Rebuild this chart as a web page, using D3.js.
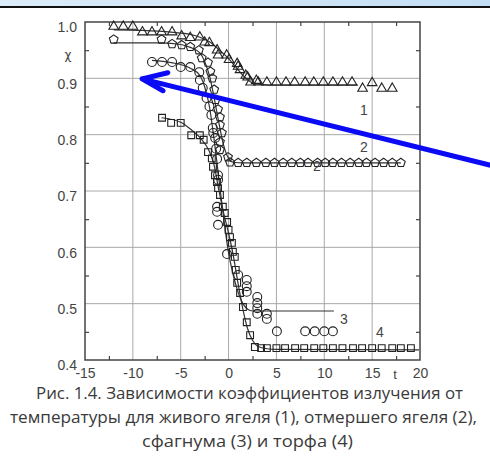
<!DOCTYPE html>
<html>
<head>
<meta charset="utf-8">
<script src="https://cdn.jsdelivr.net/npm/d3@7"></script>
<style>
  body { margin: 0; background: #fff; }
  svg { display: block; }
</style>
</head>
<body>
<script>
// axis ticks
var xTicks = [-15, -10, -5, 0, 5, 10, 15, 20];
var yTicks = [0.4, 0.5, 0.6, 0.7, 0.8, 0.9, 1.0];
var xMinor = [-12.5, -7.5, -2.5, 2.5, 7.5, 12.5, 17.5];
var yMinor = [0.45, 0.55, 0.65, 0.75, 0.85, 0.95];

// (1) living lichen - triangles  [t, chi]
var lichenLive = [[-12,0.992],[-11,0.992],[-10,0.992],[-9,0.982],[-8,0.982],[-7,0.982],[-5.9,0.982],
  [-4.9,0.975],[-4,0.972],[-3,0.973],[-2.5,0.964],[-2,0.963],[-1.2,0.95],[-1.1,0.941],[-0.2,0.941],
  [0.05,0.933],[0.9,0.926],[1,0.921],[1.2,0.915],[1.8,0.905],[2,0.902],[2.3,0.893],[2.9,0.896],
  [3.1,0.893],[4,0.893],[5,0.893],[6,0.893],[6.9,0.893],[8,0.893],[8.9,0.893],[9.9,0.893],[10.9,0.893],
  [11.9,0.893],[12.9,0.893],[14,0.882],[15,0.892],[16,0.882],[17.1,0.882]];
var lichenLiveFit = [[-12,0.986],[-9,0.985],[-6,0.982],[-4,0.978],[-3,0.973],[-2,0.965],[-1,0.951],
  [0,0.935],[1,0.915],[1.8,0.9],[2.5,0.892],[3.5,0.889],[5,0.888],[13.5,0.888]];

// (2) dead lichen - pentagons
var lichenDead = [[-12,0.969],[-7,0.969],[-5.9,0.961],[-4.9,0.959],[-4,0.956],[-3.1,0.95],[-2.8,0.936],
  [-2.15,0.928],[-1.9,0.912],[-1.7,0.9],[-1.5,0.88],[-1.35,0.862],[-1.1,0.845],[-0.9,0.831],[-0.9,0.817],
  [-0.7,0.803],[-0.9,0.787],[-0.9,0.773],[-0.06,0.76],[0.15,0.751],[1,0.75],[1.9,0.75],[2.9,0.75],
  [3.9,0.75],[4.8,0.75],[5.7,0.75],[6.6,0.75],[7.5,0.75],[8.3,0.75],[9.3,0.75],[10.1,0.75],[10.9,0.75],
  [11.8,0.75],[12.7,0.75],[13.6,0.75],[14.4,0.75],[15.3,0.75],[16.2,0.75],[17.1,0.75],[18,0.75]];
var lichenDeadFit = [[-12,0.963],[-7,0.963],[-5,0.96],[-4,0.955],[-3,0.945],[-2.5,0.93],[-2,0.905],
  [-1.5,0.865],[-1,0.82],[-0.5,0.78],[0,0.758],[0.5,0.751],[1.5,0.75],[18,0.75]];

// (3) sphagnum - circles
var sphagnum = [[-8,0.929],[-6.95,0.929],[-5.9,0.929],[-5,0.92],[-4,0.92],[-3.06,0.911],[-3,0.897],
  [-2.7,0.883],[-2.3,0.865],[-2,0.85],[-1.8,0.835],[-1.65,0.812],[-1.6,0.803],[-1.4,0.794],[-1.3,0.775],
  [-1.2,0.757],[-1.1,0.728],[-1.1,0.72],[-1.2,0.672],[-1.2,0.663],[-1.1,0.64],[-0.16,0.588],[1,0.551],
  [1.9,0.542],[1.9,0.531],[1.9,0.521],[3,0.512],[3,0.501],[3,0.492],[3,0.482],[4,0.482],[4,0.473],
  [5.05,0.451],[8,0.451],[9,0.451],[10,0.451],[10.9,0.451]];
var sphagnumFit = [[-8,0.932],[-6,0.928],[-4,0.918],[-3,0.905],[-2.5,0.885],[-2,0.85],[-1.5,0.79],
  [-1,0.72],[-0.5,0.65],[0,0.59],[0.5,0.55],[1,0.52],[1.5,0.5],[2,0.49],[2.5,0.487],[11,0.487]];

// (4) peat - squares
var peat = [[-6.95,0.83],[-6,0.821],[-5,0.821],[-3.9,0.799],[-3,0.799],[-2.6,0.791],[-2.15,0.769],
  [-1.75,0.758],[-1.63,0.743],[-1.42,0.728],[-1.21,0.716],[-1.1,0.705],[-0.9,0.693],[-0.6,0.672],
  [-0.4,0.661],[-0.15,0.645],[0,0.631],[0.15,0.618],[0.35,0.608],[0.45,0.592],[0.65,0.583],[0.75,0.56],
  [0.9,0.537],[1.2,0.519],[1.5,0.494],[1.9,0.467],[2.25,0.444],[2.75,0.423],[3.4,0.421],[4,0.421],
  [5,0.421],[5.9,0.421],[6.95,0.421],[7.9,0.421],[8.95,0.421],[9.9,0.421],[10.9,0.421],[11.9,0.421],
  [13,0.421],[13.95,0.421],[15,0.421],[16,0.421],[17.1,0.421],[18,0.421],[19.05,0.421]];
var peatFit = [[-7,0.83],[-5,0.822],[-4,0.81],[-3,0.795],[-2,0.77],[-1.5,0.745],[-1,0.7],[-0.5,0.66],
  [0,0.625],[0.5,0.585],[1,0.535],[1.5,0.49],[2,0.455],[2.5,0.435],[3,0.425],[4,0.42],[5,0.419],[19.9,0.418]];

// curve numbers  [label, t, chi] (baseline)
var curveLabels = [["1",14.15,0.835],["2",14.15,0.769],["2",9.24,0.735],["3",12.06,0.464],["4",15.82,0.441]];

// blue arrow annotation (data units): tip, wing1, wing2, tail
var arrowPts = [[-9.04,0.899],[-6.35,0.91],[-6.85,0.878],[27.8,0.744]];

var captionLines = [
  "Рис. 1.4. Зависимости коэффициентов излучения от",
  "температуры для живого ягеля (1), отмершего ягеля (2),",
  "сфагнума (3) и торфа (4)"
];

var W = 490, H = 462;
var svg = d3.select("body").append("svg").attr("width", W).attr("height", H);

// top banner from the slide
var grad = svg.append("defs").append("linearGradient").attr("id", "band");
grad.append("stop").attr("offset", "0%").attr("stop-color", "#dcecf9");
grad.append("stop").attr("offset", "100%").attr("stop-color", "#c3def4");
svg.append("rect").attr("x", 0).attr("y", 0).attr("width", W).attr("height", 6).attr("fill", "url(#band)");
svg.append("rect").attr("x", 0).attr("y", 6).attr("width", W).attr("height", 2).attr("fill", "#111");

var x = d3.scaleLinear().domain([-15, 20]).range([85, 420]);
var y = d3.scaleLinear().domain([0.4, 1.0]).range([360, 22]);

var grid = svg.append("g");
grid.selectAll(".gx").data(xTicks.slice(1, -1)).enter().append("line")
  .attr("x1", function(d){ return x(d); }).attr("x2", function(d){ return x(d); })
  .attr("y1", y(0.4)).attr("y2", y(1.0))
  .attr("stroke", "#a8a8a8").attr("stroke-width", 1);
grid.selectAll(".gy").data(yTicks.slice(1, -1)).enter().append("line")
  .attr("y1", function(d){ return y(d); }).attr("y2", function(d){ return y(d); })
  .attr("x1", x(-15)).attr("x2", x(20))
  .attr("stroke", "#a8a8a8").attr("stroke-width", 1);

// minor ticks pointing inward on all four sides
function ticks(axis, tr) {
  var g = svg.append("g").attr("transform", tr).call(axis.tickFormat("").tickSizeOuter(0));
  g.select(".domain").remove();
  g.selectAll("line").attr("stroke", "#444").attr("stroke-width", 1.2);
}
ticks(d3.axisBottom(x).tickValues(xMinor).tickSize(-4), "translate(0,360)");
ticks(d3.axisTop(x).tickValues(xMinor).tickSize(-4), "translate(0,22)");
ticks(d3.axisLeft(y).tickValues(yMinor).tickSize(-4), "translate(85,0)");
ticks(d3.axisRight(y).tickValues(yMinor).tickSize(-4), "translate(420,0)");

// labels
var xa = svg.append("g").attr("transform", "translate(0,360)")
  .call(d3.axisBottom(x).tickValues(xTicks).tickSize(0).tickPadding(8).tickFormat(function(d){ return String(d); }));
xa.select(".domain").remove();
xa.selectAll("text").attr("font-family", "Liberation Sans, Arial, sans-serif").attr("font-size", 14).attr("fill", "#444");

var ya = svg.append("g").attr("transform", "translate(85,0)")
  .call(d3.axisLeft(y).tickValues(yTicks).tickSize(0).tickPadding(8).tickFormat(d3.format(".1f")));
ya.select(".domain").remove();
ya.selectAll("text").attr("dy", "0.7em").attr("font-family", "Liberation Sans, Arial, sans-serif").attr("font-size", 14).attr("fill", "#444");

svg.append("rect").attr("x", 85).attr("y", 22).attr("width", 335).attr("height", 338)
  .attr("fill", "none").attr("stroke", "#444").attr("stroke-width", 1.5);

svg.append("text").attr("x", 68).attr("y", 59).attr("text-anchor", "middle")
  .attr("font-family", "DejaVu Sans, sans-serif").attr("font-size", 12).attr("fill", "#444").text("χ");
svg.append("text").attr("x", 395).attr("y", 379).attr("text-anchor", "middle")
  .attr("font-family", "Liberation Sans, Arial, sans-serif").attr("font-size", 13).attr("fill", "#444").text("t");

// fitted lines
var line = d3.line().x(function(d){ return x(d[0]); }).y(function(d){ return y(d[1]); }).curve(d3.curveMonotoneX);
[lichenLiveFit, lichenDeadFit, sphagnumFit, peatFit].forEach(function(s) {
  svg.append("path").datum(s).attr("d", line).attr("fill", "none").attr("stroke", "#333").attr("stroke-width", 1.2);
});

// markers
var symbolPentagon = {
  draw: function(ctx, size) {
    var r = Math.sqrt(size / 2.3776);
    for (var i = 0; i < 5; i++) {
      var a = -Math.PI / 2 + i * 2 * Math.PI / 5;
      if (i) ctx.lineTo(r * Math.cos(a), r * Math.sin(a)); else ctx.moveTo(r * Math.cos(a), r * Math.sin(a));
    }
    ctx.closePath();
  }
};
var series = [
  {pts: peat, type: d3.symbolSquare, size: 46},
  {pts: sphagnum, type: d3.symbolCircle, size: 62},
  {pts: lichenDead, type: symbolPentagon, size: 50},
  {pts: lichenLive, type: d3.symbolTriangle, size: 40}
];
series.forEach(function(s) {
  svg.append("g").selectAll("path").data(s.pts).enter().append("path")
    .attr("d", d3.symbol().type(s.type).size(s.size))
    .attr("transform", function(d){ return "translate(" + x(d[0]) + "," + y(d[1]) + ")"; })
    .attr("fill", "none").attr("stroke", "#222").attr("stroke-width", 1.1);
});

svg.append("g").selectAll("text").data(curveLabels).enter().append("text")
  .attr("x", function(d){ return x(d[1]); }).attr("y", function(d){ return y(d[2]); })
  .attr("text-anchor", "middle")
  .attr("font-family", "Liberation Sans, Arial, sans-serif").attr("font-size", 14).attr("fill", "#444")
  .text(function(d){ return d[0]; });

// blue arrow
var ax = function(p){ return [x(p[0]), y(p[1])]; };
svg.append("path")
  .attr("d", "M" + ax(arrowPts[3]) + "L" + ax(arrowPts[0]) + "M" + ax(arrowPts[1]) + "L" + ax(arrowPts[0]) + "L" + ax(arrowPts[2]))
  .attr("fill", "none").attr("stroke", "#0a0af5").attr("stroke-width", 5)
  .attr("stroke-linecap", "round").attr("stroke-linejoin", "round");

// caption
var capX = [36, 10, 142], capW = [427, 467, 211], capY = [399, 423, 447];
svg.append("g").selectAll("text").data(captionLines).enter().append("text")
  .attr("x", function(d, i){ return capX[i]; }).attr("y", function(d, i){ return capY[i]; })
  .attr("textLength", function(d, i){ return capW[i]; }).attr("lengthAdjust", "spacingAndGlyphs")
  .attr("font-family", "Open Sans, sans-serif").attr("font-size", 17).attr("fill", "#3a3a3a")
  .text(function(d){ return d; });
</script>
</body>
</html>
